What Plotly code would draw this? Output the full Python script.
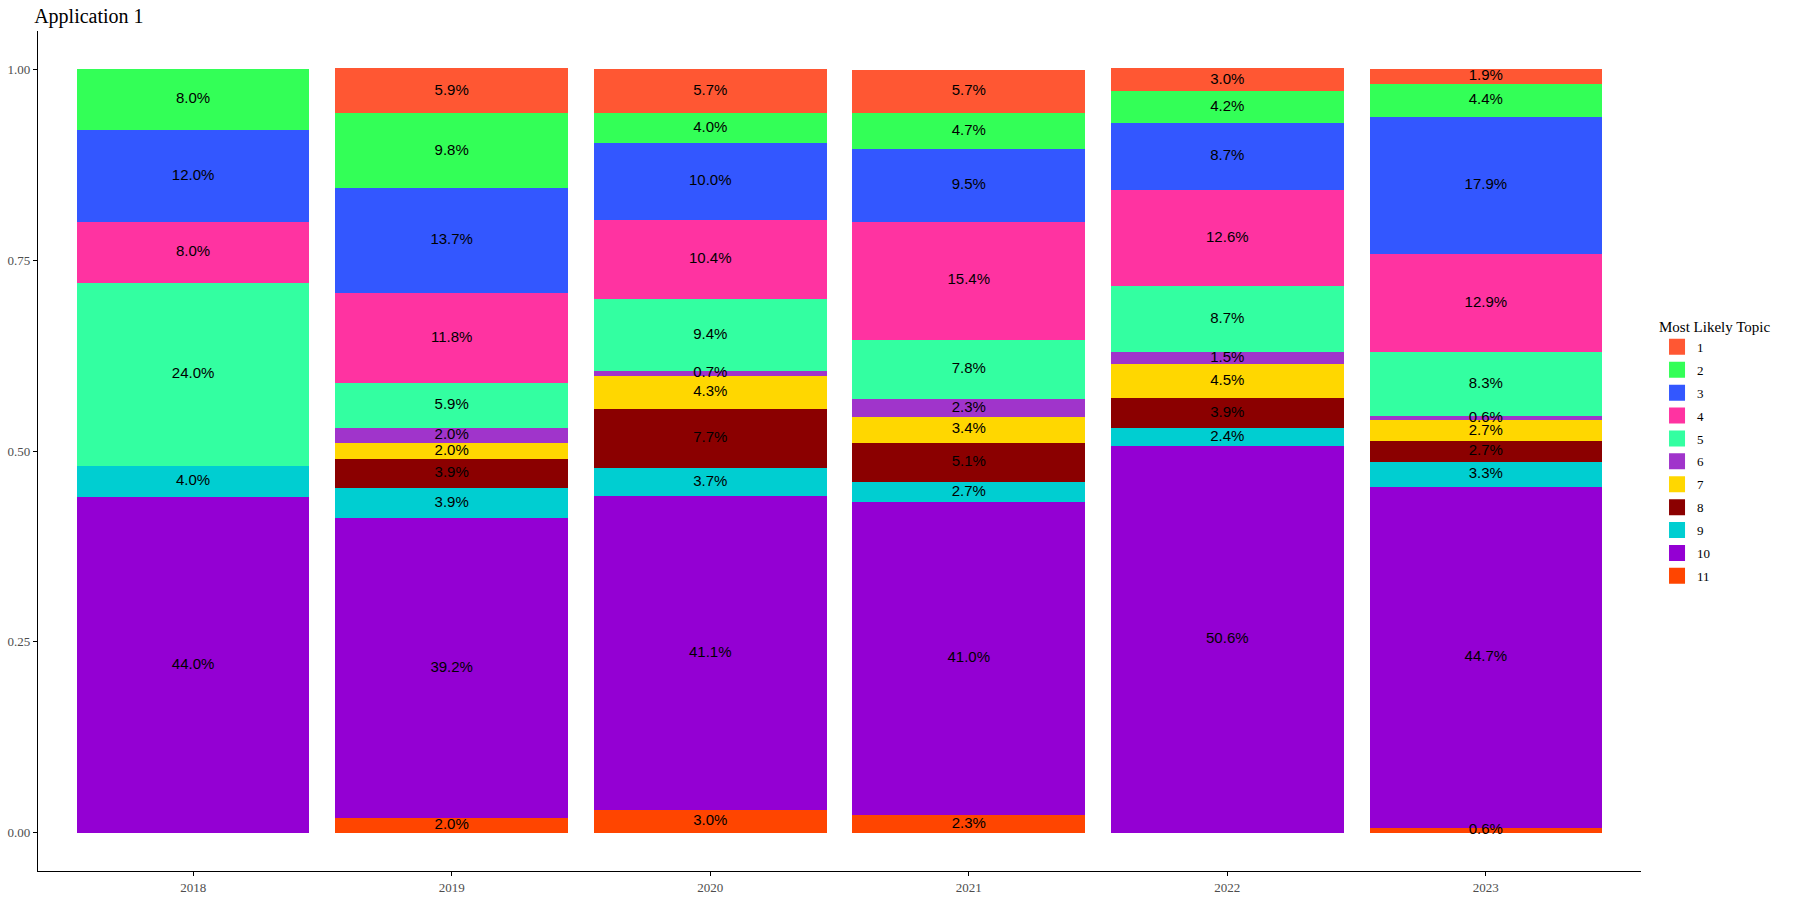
import plotly.graph_objects as go

years = ["2018", "2019", "2020", "2021", "2022", "2023"]
topics = ["1", "2", "3", "4", "5", "6", "7", "8", "9", "10", "11"]

# percentage share of each topic per year (0 = topic absent that year)
t1 = [0.0, 5.9, 5.7, 5.7, 3.0, 1.9]
t2 = [8.0, 9.8, 4.0, 4.7, 4.2, 4.4]
t3 = [12.0, 13.7, 10.0, 9.5, 8.7, 17.9]
t4 = [8.0, 11.8, 10.4, 15.4, 12.6, 12.9]
t5 = [24.0, 5.9, 9.4, 7.8, 8.7, 8.3]
t6 = [0.0, 2.0, 0.7, 2.3, 1.5, 0.6]
t7 = [0.0, 2.0, 4.3, 3.4, 4.5, 2.7]
t8 = [0.0, 3.9, 7.7, 5.1, 3.9, 2.7]
t9 = [4.0, 3.9, 3.7, 2.7, 2.4, 3.3]
t10 = [44.0, 39.2, 41.1, 41.0, 50.6, 44.7]
t11 = [0.0, 2.0, 3.0, 2.3, 0.0, 0.6]

series = [t1, t2, t3, t4, t5, t6, t7, t8, t9, t10, t11]
colors = ["#FF5733", "#33FF57", "#3357FF", "#FF33A1", "#33FFA1", "#A034CB",
          "#FFD700", "#8B0000", "#00CED1", "#9400D3", "#FF4500"]

SERIF = "Liberation Serif"
fig = go.Figure()

# stack from topic 11 (bottom) up to topic 1 (top)
base = [0.0] * len(years)
order = list(range(len(topics)))[::-1]
lab_x, lab_y, lab_t = [], [], []
for i in order:
    vals = [v / 100.0 for v in series[i]]
    fig.add_trace(go.Bar(
        x=years, y=vals, name=topics[i], marker=dict(color=colors[i], line=dict(width=0)),
        width=0.9, hoverinfo="skip", showlegend=False,
    ))
    for j, v in enumerate(vals):
        if v > 0:
            lab_x.append(years[j])
            lab_y.append(base[j] + v / 2)
            lab_t.append(f"{series[i][j]:.1f}%")
        base[j] += v

fig.add_trace(go.Scatter(
    x=lab_x, y=lab_y, text=lab_t, mode="text", showlegend=False,
    textfont=dict(family="Liberation Sans, Arial", size=15, color="black"),
    textposition="middle center", hoverinfo="skip",
))

# legend entries (square keys)
for i in range(len(topics)):
    fig.add_trace(go.Scatter(
        x=[None], y=[None], mode="markers", name=topics[i],
        marker=dict(symbol="square", size=22, color=colors[i]),
        legendgroup=topics[i], legendrank=i + 1, showlegend=True,
    ))

fig.update_layout(
    barmode="stack",
    width=1797, height=898,
    paper_bgcolor="white", plot_bgcolor="white",
    margin=dict(l=38, r=156, t=31, b=27),
    title=dict(text="Application 1", x=0.019, xanchor="left", y=0.99, yanchor="top",
               font=dict(family=SERIF, size=20, color="black")),
    legend=dict(
        title=dict(text="Most Likely Topic", font=dict(family=SERIF, size=15, color="black")),
        font=dict(family=SERIF, size=13, color="black"),
        x=1.01, xanchor="left", y=0.665, yanchor="top",
        traceorder="grouped", itemsizing="trace", tracegroupgap=3,
    ),
    xaxis=dict(
        type="category", categoryorder="array", categoryarray=years,
        range=[-0.6, 5.6], showline=True, linecolor="black", linewidth=1.2,
        ticks="outside", ticklen=4, tickcolor="black", showgrid=False, zeroline=False,
        tickfont=dict(family=SERIF, size=13, color="#4d4d4d"), automargin=False,
    ),
    yaxis=dict(
        range=[-0.05, 1.05], tickvals=[0, 0.25, 0.5, 0.75, 1.0], tickformat=".2f",
        showline=True, linecolor="black", linewidth=1.2,
        ticks="outside", ticklen=4, tickcolor="black", showgrid=False, zeroline=False,
        tickfont=dict(family=SERIF, size=13, color="#4d4d4d"), automargin=False,
    ),
)

fig.write_html("out.html")
